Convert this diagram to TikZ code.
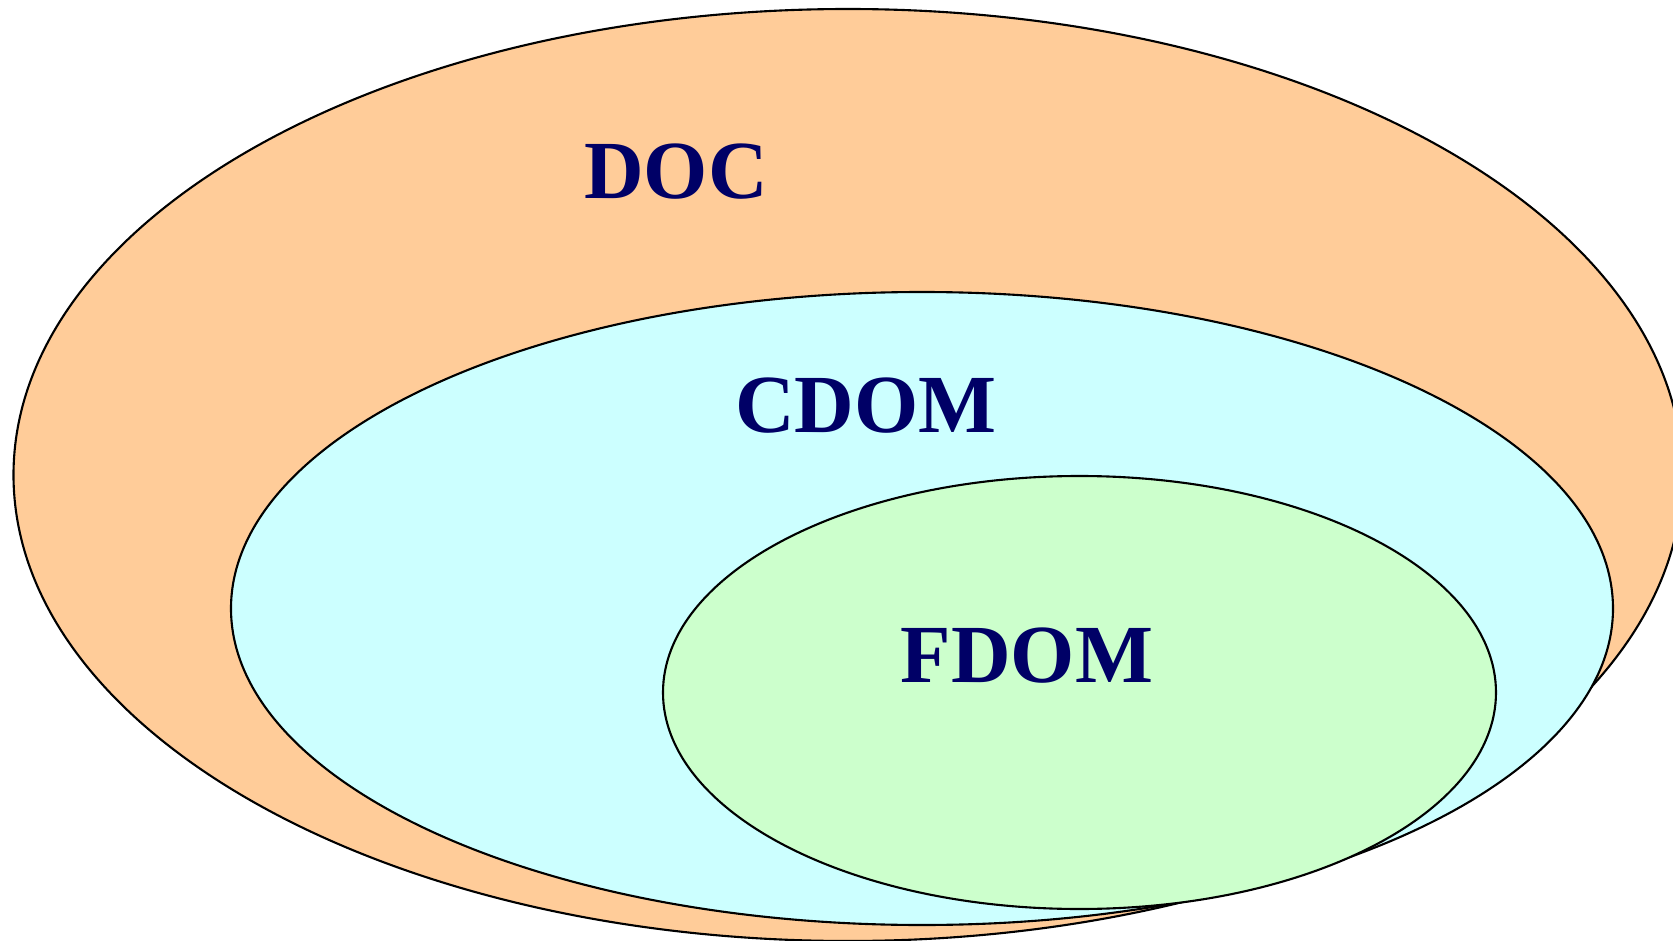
\documentclass[tikz,border=0pt]{standalone}
\usepackage{fontspec}
\setmainfont{Liberation Serif}
\usetikzlibrary{shapes.geometric}
\definecolor{docfill}{HTML}{FFCC99}
\definecolor{cdomfill}{HTML}{CCFFFF}
\definecolor{fdomfill}{HTML}{CCFFCC}
\definecolor{labelblue}{HTML}{000066}
\begin{document}
\begin{tikzpicture}[line width=0.6pt,
                    set node/.style={ellipse,draw=black,inner sep=0pt,outer sep=0pt},
                    set label/.style={inner sep=0pt,text=labelblue,font=\fontsize{23.5}{28}\selectfont\bfseries}]

  \useasboundingbox (0,0) rectangle (16.73,-9.41);
  \clip (0,0) rectangle (16.73,-9.41);

  \node[set node,fill=docfill,minimum width=16.69cm,minimum height=9.32cm] (doc) at (8.48,-4.75) {};
  \node[set node,fill=cdomfill,minimum width=13.82cm,minimum height=6.33cm] (cdom) at (9.22,-6.085) {};
  \node[set node,fill=fdomfill,minimum width=8.33cm,minimum height=4.33cm] (fdom) at (10.795,-6.925) {};

  \node[set label] (doclabel) at (6.76,-1.72) {DOC};
  \node[set label] (cdomlabel) at (8.66,-4.06) {CDOM};
  \node[set label] (fdomlabel) at (10.27,-6.56) {FDOM};

\end{tikzpicture}
\end{document}
